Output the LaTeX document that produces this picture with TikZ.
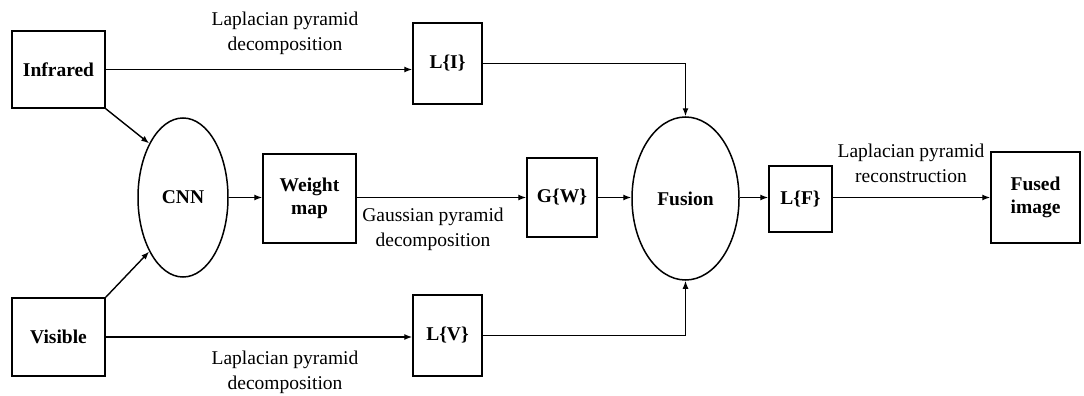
\documentclass[tikz,border=0pt]{standalone}
\usepackage{fontspec}
\setmainfont{Liberation Serif}
\usetikzlibrary{shapes.geometric,arrows.meta}
\begin{document}
\begin{tikzpicture}[x=1pt,y=-1pt,
 box/.style={draw,line width=1.5pt,inner sep=0pt,align=center,font=\fontsize{19.5}{23}\selectfont\bfseries},
 oval/.style={draw,ellipse,line width=1.5pt,inner sep=0pt,font=\fontsize{19.5}{23}\selectfont\bfseries},
 lbl/.style={align=center,font=\fontsize{19.5}{25}\selectfont,inner sep=0pt},
 arr/.style={line width=1.4pt,-{Latex[length=8pt,width=6pt]}},
]
\useasboundingbox (0,0) rectangle (1084,396);
\node[box,minimum width=93pt,minimum height=77pt] (inf) at (58.5,69.5) {Infrared};
\node[box,minimum width=93pt,minimum height=78pt] (vis) at (58.5,337) {Visible};
\node[oval,minimum width=90pt,minimum height=159pt] (cnn) at (183,197.5) {CNN};
\node[box,minimum width=93pt,minimum height=89pt] (wm) at (309.5,198.5) {Weight\\map};
\node[box,minimum width=69pt,minimum height=81pt] (li) at (447.5,63.5) {L\{I\}};
\node[box,minimum width=69pt,minimum height=81pt] (lv) at (447.5,335.5) {L\{V\}};
\node[box,minimum width=70pt,minimum height=79pt] (gw) at (562,197.5) {G\{W\}};
\node[oval,minimum width=107pt,minimum height=163pt] (fus) at (685.5,198.5) {Fusion};
\node[box,minimum width=63pt,minimum height=66pt] (lf) at (800.5,199) {L\{F\}};
\node[box,minimum width=89pt,minimum height=91pt] (fi) at (1035.5,197.5) {Fused\\image};

\node[lbl] (t1) at (285,33) {Laplacian pyramid\\decomposition};
\node[lbl] (t2) at (285,372) {Laplacian pyramid\\decomposition};
\node[lbl] (t3) at (433,229) {Gaussian pyramid\\decomposition};
\node[lbl] (t4) at (911,163) {Laplacian pyramid\\reconstruction};

\draw[arr] (inf.east) -- (inf.east -| li.west);
\draw[arr] (vis.east) -- (vis.east -| lv.west);
\draw[arr] (inf.south east) -- (cnn.122);
\draw[arr] (vis.north east) -- (cnn.238);
\draw[arr] (cnn.east) -- (cnn.east -| wm.west);
\draw[arr] (wm.east |- gw.west) -- (gw.west);
\draw[arr] (gw.east) -- (gw.east -| fus.west);
\draw[arr] (li.east) -| (fus.north);
\draw[arr] (lv.east) -| (fus.south);
\draw[arr] (fus.east |- gw.east) -- (gw.east -| lf.west);
\draw[arr] (lf.east |- gw.east) -- (gw.east -| fi.west);
\end{tikzpicture}
\end{document}
